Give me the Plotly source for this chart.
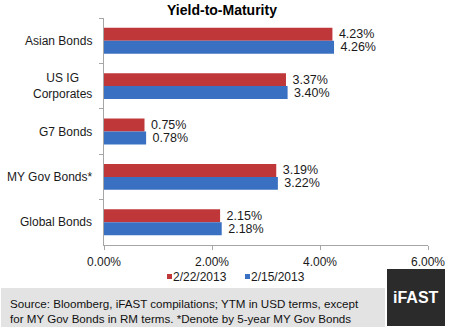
import plotly.graph_objects as go

categories = ["Asian Bonds", "US IG<br>Corporates", "G7 Bonds", "MY Gov Bonds*", "Global Bonds"]
ytm_0222 = [4.23, 3.37, 0.75, 3.19, 2.15]
ytm_0215 = [4.26, 3.40, 0.78, 3.22, 2.18]
series_names = ["2/22/2013", "2/15/2013"]
series_colors = ["#C0373A", "#3A70C2"]
x_ticks = [0, 2, 4, 6]
x_tick_labels = ["0.00%", "2.00%", "4.00%", "6.00%"]
title_text = "Yield-to-Maturity"
source_text = ("Source: Bloomberg, iFAST compilations; YTM in USD terms, except<br>"
               "for MY Gov Bonds in RM terms. *Denote by 5-year MY Gov Bonds")
brand_text = "iFAST"

W, H = 450, 332
L, R, T, B = 104, 22, 18, 87
PW, PH = W - L - R, H - T - B
FONT = "Arial, Liberation Sans, sans-serif"


def px_x(px):
    return (px - L) / PW


def px_y(py):
    return (H - B - py) / PH


fig = go.Figure()
for name, vals, col in zip(series_names, [ytm_0222, ytm_0215], series_colors):
    fig.add_trace(go.Bar(
        y=categories, x=vals, name=name, orientation="h",
        marker=dict(color=col, line=dict(width=0)),
        texttemplate="\u00a0%{x:.2f}%", textposition="outside", constraintext="none",
        textfont=dict(family=FONT, size=12.5, color="#1a1a1a"),
        cliponaxis=False, showlegend=False,
    ))

fig.update_layout(
    width=W, height=H, margin=dict(l=L, r=R, t=T, b=B, autoexpand=False),
    paper_bgcolor="white", plot_bgcolor="white",
    barmode="group", bargap=0.43, bargroupgap=0,
    font=dict(family=FONT, size=12, color="#1a1a1a"),
    title=dict(text="<b>" + title_text + "</b>", x=px_x(222), xref="paper",
               xanchor="center", y=1 - 10 / H, yanchor="middle",
               font=dict(family=FONT, size=14, color="#000")),
    xaxis=dict(range=[0, 6], tickmode="array", tickvals=x_ticks, ticktext=x_tick_labels,
               automargin=False,
               showgrid=False, zeroline=False, showline=True, linecolor="#A6A6A6",
               ticks="outside", ticklen=4, tickcolor="#A6A6A6", ticklabelstandoff=2,
               tickfont=dict(family=FONT, size=12, color="#1a1a1a")),
    yaxis=dict(type="category", autorange="reversed", showticklabels=False,
               automargin=False,
               showgrid=False, zeroline=False, showline=True, linecolor="#A6A6A6",
               ticks="outside", ticklen=4, tickcolor="#A6A6A6", tickson="boundaries"),
)

# category labels (centered multi-line like the original)
for c in categories:
    fig.add_annotation(x=0, xref="paper", xanchor="right", xshift=-10,
                       y=c, yref="y", text=c, showarrow=False, align="center",
                       font=dict(family=FONT, size=12, color="#1a1a1a"))

# legend
leg = [(167, 172), (245, 250)]
for (sx, tx), name, col in zip(leg, series_names, series_colors):
    fig.add_shape(type="rect", xref="paper", yref="paper",
                  x0=px_x(sx), x1=px_x(sx + 5), y0=px_y(274), y1=px_y(279),
                  fillcolor=col, line=dict(width=0))
    fig.add_annotation(x=px_x(tx), xref="paper", xanchor="left",
                       y=px_y(277), yref="paper", yanchor="middle",
                       text=name, showarrow=False, borderpad=0,
                       font=dict(family=FONT, size=12, color="#1a1a1a"))

# footer band
fig.add_shape(type="rect", xref="paper", yref="paper",
              x0=px_x(1), x1=px_x(385), y0=px_y(288), y1=px_y(327),
              fillcolor="#E3E3E3", line=dict(width=0), layer="below")
fig.add_annotation(x=px_x(8), xref="paper", xanchor="left",
                   y=px_y(311), yref="paper", yanchor="middle",
                   text=source_text, showarrow=False, align="left",
                   font=dict(family=FONT, size=11.6, color="#111"))

# brand box
fig.add_shape(type="rect", xref="paper", yref="paper",
              x0=px_x(387), x1=px_x(445), y0=px_y(269), y1=px_y(326),
              fillcolor="#2B2B2B", line=dict(width=0))
fig.add_annotation(x=px_x(416), xref="paper", xanchor="center",
                   y=px_y(297), yref="paper", yanchor="middle",
                   text="<b>" + brand_text + "</b>", showarrow=False,
                   font=dict(family="Liberation Sans Narrow, Arial Narrow, Arial", size=16,
                             color="white"))

fig.write_html("out.html")
